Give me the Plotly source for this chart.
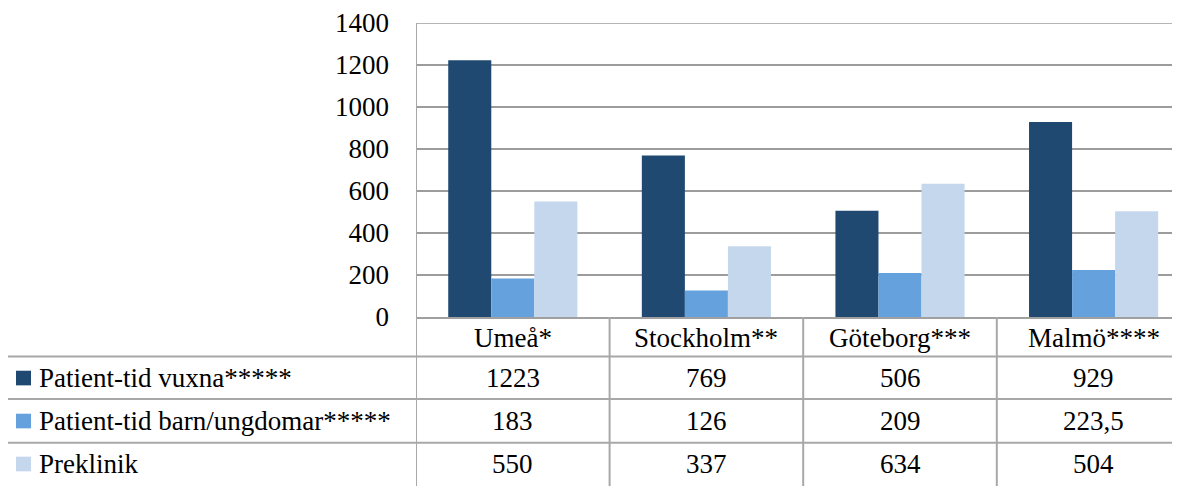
import plotly.graph_objects as go

categories = ["Umeå*", "Stockholm**", "Göteborg***", "Malmö****"]
series_names = ["Patient-tid vuxna*****", "Patient-tid barn/ungdomar*****", "Preklinik"]
vuxna = [1223, 769, 506, 929]
barn = [183, 126, 209, 223.5]
preklinik = [550, 337, 634, 504]
series_values = [vuxna, barn, preklinik]
y_ticks = [0, 200, 400, 600, 800, 1000, 1200, 1400]

colors = ["#1F4971", "#65A2DD", "#C4D7EC"]
FONT = "Liberation Serif, DejaVu Serif, serif"
FS = 27
OFF = 8  # page offset of the figure inside the browser window
W, H = 1180 - OFF, 486 - OFF
L, R, T, B = 416 - OFF, 0, 16 - OFF, 486 - 317
plot_h = H - T - B
plot_w = W - L - R
grid_c = "#9C9C9C"

def px(X):
    return (X - OFF - L) / plot_w

def py(Y):
    return (H - B - (Y - OFF)) / plot_h

def fmt(v):
    return ("%g" % v).replace(".", ",")

fig = go.Figure()
for name, vals, c in zip(series_names, series_values, colors):
    fig.add_trace(go.Bar(x=categories, y=vals, name=name, marker=dict(color=c, line=dict(width=0))))

cat_w = 193.6
x_right = -0.5 + plot_w / cat_w

shapes = []
line_c = "#A8A8A8"
# top gridline (range edge)
shapes.append(dict(type="line", xref="paper", yref="y", x0=0, x1=1, y0=y_ticks[-1], y1=y_ticks[-1],
                   line=dict(color=grid_c, width=1.6), layer="below"))
for Y in [357.5, 401, 445.7]:
    shapes.append(dict(type="line", xref="paper", yref="paper",
                       x0=px(7), x1=1.0, y0=py(Y), y1=py(Y),
                       line=dict(color=line_c, width=2)))
shapes.append(dict(type="line", xref="paper", yref="paper",
                   x0=px(7), x1=px(7), y0=py(357.5), y1=py(495),
                   line=dict(color=line_c, width=2)))
for i in range(len(categories)):
    shapes.append(dict(type="line", xref="x", yref="paper",
                       x0=i - 0.5, x1=i - 0.5, y0=py(495), y1=0 if i > 0 else 1,
                       line=dict(color=line_c, width=2)))
row_centers = [379.5, 423.5, 467.5]
for c, Yc in zip(colors, row_centers):
    shapes.append(dict(type="rect", xref="paper", yref="paper",
                       x0=px(16), x1=px(31), y0=py(Yc + 7.5), y1=py(Yc - 7.5),
                       fillcolor=c, line=dict(width=0)))

annotations = []
for i, cat in enumerate(categories):
    annotations.append(dict(x=i, y=py(338), xref="x", yref="paper", text=cat,
                            showarrow=False, font=dict(family=FONT, size=FS, color="black"),
                            xanchor="center", yanchor="middle"))
for name, vals, Yc in zip(series_names, series_values, row_centers):
    annotations.append(dict(x=px(37), y=py(Yc), xref="paper", yref="paper", text=name,
                            showarrow=False, font=dict(family=FONT, size=FS, color="black"),
                            xanchor="left", yanchor="middle"))
    for i, v in enumerate(vals):
        annotations.append(dict(x=i, y=py(Yc), xref="x", yref="paper", text=fmt(v),
                                showarrow=False, font=dict(family=FONT, size=FS, color="black"),
                                xanchor="center", yanchor="middle"))

fig.update_layout(
    width=W, height=H,
    margin=dict(l=L, r=R, t=T, b=B, pad=0),
    paper_bgcolor="white", plot_bgcolor="white",
    barmode="group", bargap=0.333, bargroupgap=0,
    showlegend=False,
    font=dict(family=FONT, size=FS, color="black"),
    shapes=shapes, annotations=annotations,
    xaxis=dict(range=[-0.5, x_right], showticklabels=False, showgrid=False,
               showline=True, linecolor="#A0A0A0", linewidth=1.5, zeroline=False, fixedrange=True),
    yaxis=dict(range=[0, 1400], tickvals=y_ticks, ticktext=[str(t) for t in y_ticks],
               showgrid=True, gridcolor=grid_c, gridwidth=1.6, zeroline=False,
               showline=False, ticks="", ticklabelstandoff=26, ticklabeloverflow="allow",
               tickfont=dict(family=FONT, size=FS, color="black"), fixedrange=True),
)
fig.write_html("out.html")
